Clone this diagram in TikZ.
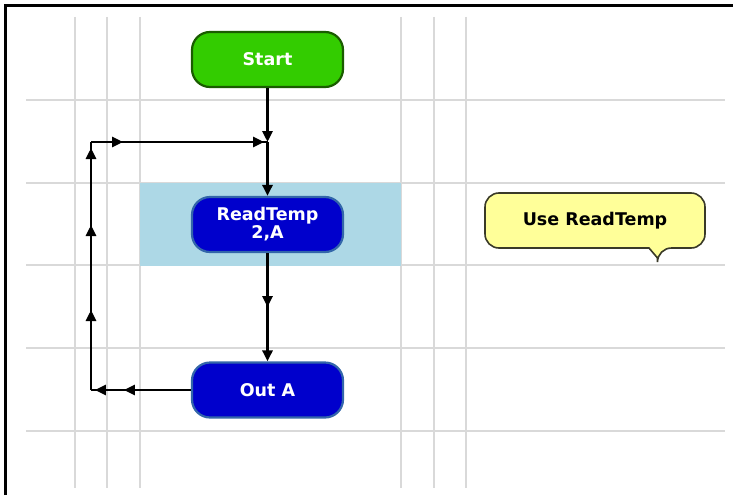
\documentclass[tikz,border=0pt]{standalone}
\usepackage{fontspec}
\setmainfont{DejaVu Sans}
\usetikzlibrary{arrows.meta,decorations.markings}
\definecolor{gridc}{HTML}{D9D9D9}
\definecolor{bandc}{HTML}{ADD8E6}
\definecolor{greenf}{HTML}{33CC00}
\definecolor{greend}{HTML}{1A5C00}
\definecolor{bluef}{HTML}{0000CC}
\definecolor{blued}{HTML}{3366AA}
\definecolor{notef}{HTML}{FFFF99}
\definecolor{noted}{HTML}{3A3A28}
\tikzset{
  mytri/.tip={Triangle[length=11pt,width=10pt]},
  gridline/.style={draw=gridc, line width=1.4pt},
  boxbase/.style={rounded corners=18pt, minimum width=151pt, minimum height=55pt,
    line width=2.2pt, text=white, align=center,
    font=\bfseries\fontsize{17.5}{18}\selectfont},
  startbox/.style={boxbase, fill=greenf, draw=greend},
  procbox/.style={boxbase, fill=bluef, draw=blued},
  conn/.style={draw=black, line width=2.8pt},
}
\begin{document}
\begin{tikzpicture}[x=1pt,y=-1pt]
\useasboundingbox (0,0) rectangle (735,495);
\fill[white] (0,0) rectangle (735,495);
% grid
\foreach \x in {75,107,140,401,434,466} \draw[gridline] (\x,17) -- (\x,488);
\foreach \y in {100,183,265,348,431} \draw[gridline] (26,\y) -- (725,\y);
% highlighted band
\fill[bandc] (140,183) rectangle (401,265.5);
% frame
\draw[line width=3pt] (5.5,495) -- (5.5,6) -- (733,6);
% nodes
\node[startbox] (start) at (267.5,59.5) {Start};
\node[procbox] (read) at (267.5,224.5) {ReadTemp\\2,A};
\node[procbox] (outa) at (267.5,390) {Out A};
\coordinate (j) at (267.5,142);
\coordinate (tl) at (91,142);
\coordinate (bl) at (91,390);
% connectors
\draw[conn,-{mytri}] (start) -- (j);
\draw[conn,-{mytri}] (j) -- (read);
\draw[conn,-{mytri}, postaction={decorate}, decoration={markings,
  mark=at position 54pt with {\arrow{mytri}}}] (read) -- (outa);
\draw[conn, postaction={decorate}, decoration={markings,
  mark=at position 67pt with {\arrow{mytri}},
  mark=at position 96pt with {\arrow{mytri}}}] (outa) -- (bl);
\draw[conn, postaction={decorate}, decoration={markings,
  mark=at position 80pt with {\arrow{mytri}},
  mark=at position 165pt with {\arrow{mytri}},
  mark=at position 242pt with {\arrow{mytri}}}] (bl) -- (tl);
\draw[conn, postaction={decorate}, decoration={markings,
  mark=at position 32pt with {\arrow{mytri}},
  mark=at position 173pt with {\arrow{mytri}}}] (tl) -- (j);
% comment callout
\draw[fill=notef, draw=noted, line width=1.6pt]
  (649,248) [rounded corners=14pt] -- (485,248) -- (485,193) -- (705,193)
  -- (705,248) -- (657.5,248) [sharp corners] -- (657.5,258) -- cycle;
\node[font=\bfseries\fontsize{17.5}{18}\selectfont, text=black] (note) at (595,220.5) {Use ReadTemp};
\end{tikzpicture}
\end{document}
